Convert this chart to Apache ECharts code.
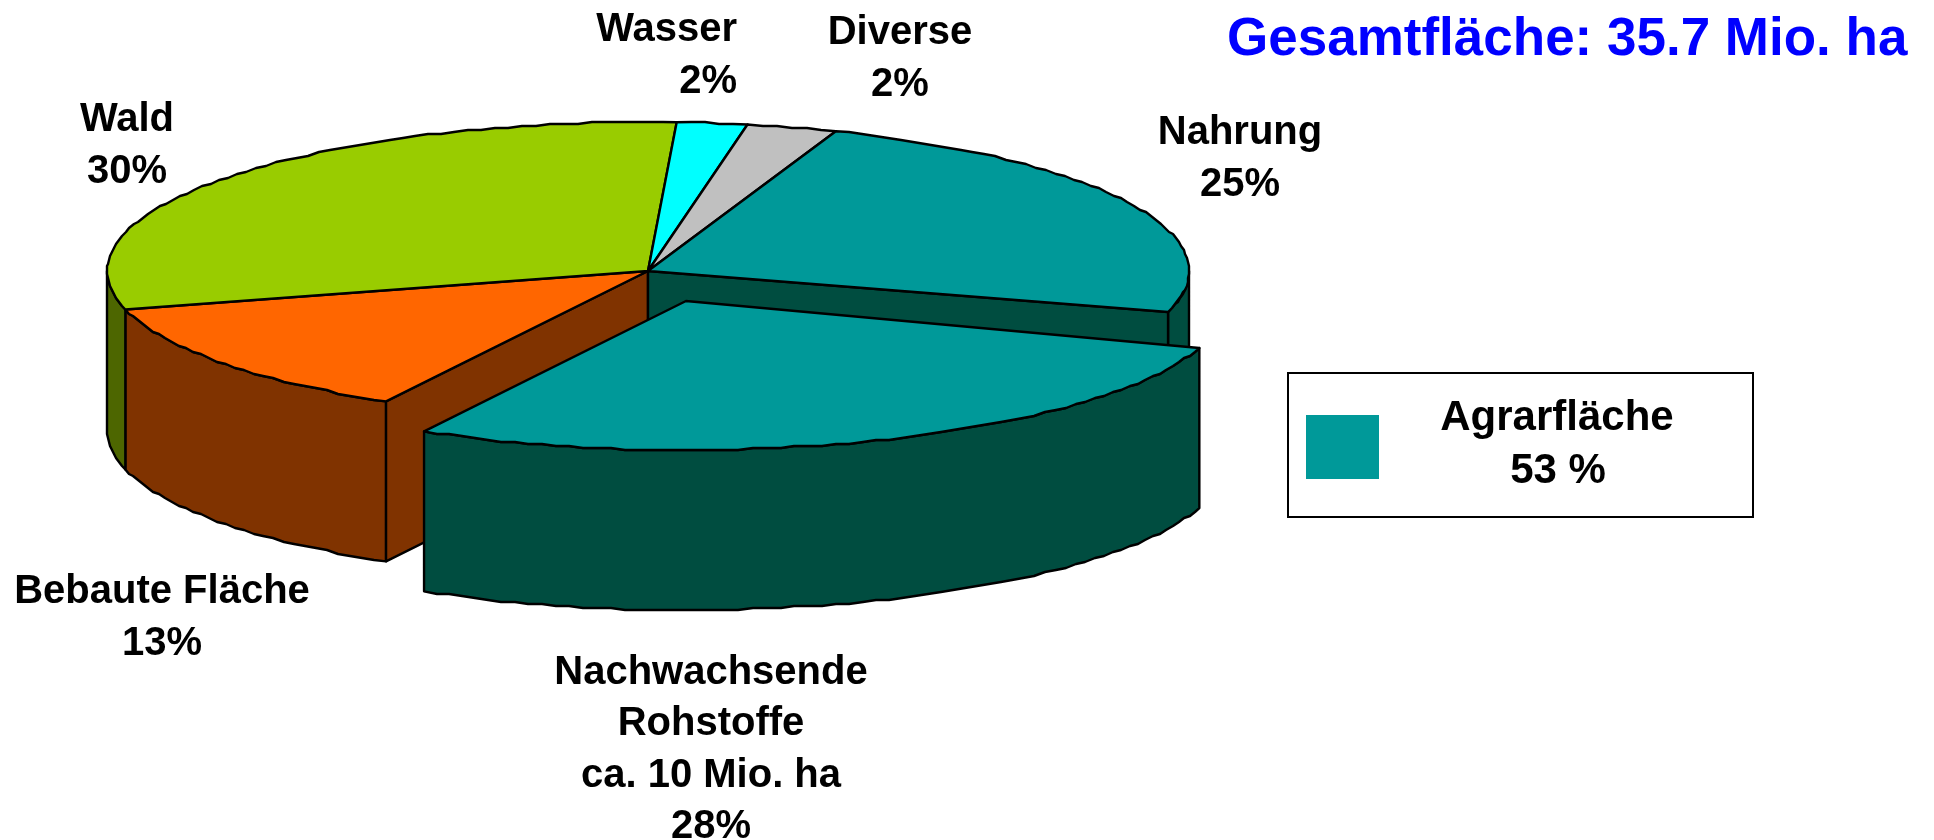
<!DOCTYPE html>
<html><head><meta charset="utf-8">
<style>html,body{margin:0;padding:0;background:#fff}#c{width:1934px;height:840px}</style>
<script src="https://cdn.jsdelivr.net/npm/echarts@6/dist/echarts.min.js"></script>
</head><body><div id="c"></div>
<script>
// --- data ---
const categories = ['Nachwachsende Rohstoffe', 'Bebaute Fläche', 'Wald', 'Wasser', 'Diverse', 'Nahrung'];
const sliceShares = [28.6, 12.8, 30, 2.1, 2.7, 23.8];   // shares
const labelPercents = ['28%', '13%', '30%', '2%', '2%', '25%'];
const labelNames = ['Nachwachsende\nRohstoffe\nca. 10 Mio. ha', 'Bebaute Fläche', 'Wald', 'Wasser', 'Diverse', 'Nahrung'];
const topColors = ['#009999', '#FF6600', '#99CC00', '#00FFFF', '#C0C0C0', '#009999'];
const sideColors = ['#004D40', '#803300', '#4D6600', '#008080', '#606060', '#004D40'];
const explodedFlags = [1, 0, 0, 0, 0, 0];
const titleText = 'Gesamtfläche: 35.7 Mio. ha';
const legendName = 'Agrarfläche';
const legendValue = '53 %';

// --- geometry of the tilted pie ---
const CX = 648, CY = 271, RX = 541, RY = 149, DEPTH = 160, START = 16;
const EX_DX = 38, EX_DY = 30, EX_TRIM = 2.4;
const rad = d => d * Math.PI / 180;
const total = sliceShares.reduce((a, b) => a + b, 0);
const starts = [];
sliceShares.reduce((acc, v, i) => { starts[i] = acc; return acc + v / total * 360; }, START);

function pt(cx, cy, t) { return [cx + RX * Math.cos(rad(t)), cy + RY * Math.sin(rad(t))]; }
// Outline of the ellipse arc: slightly stepped, like the old metafile rendering
function arc(cx, cy, a, b) {
  const pts = [pt(cx, cy, a)];
  const n = Math.max(1, Math.round((b - a) / 1.5));
  for (let i = 1; i < n; i++) {
    const p = pt(cx, cy, a + (b - a) * i / n);
    pts.push([Math.round(p[0]), Math.round(p[1] / 2) * 2]);
  }
  pts.push(pt(cx, cy, b));
  return pts;
}
const poly = (points, fill, lw) => ({ type: 'polygon', shape: { points }, style: { fill, stroke: '#000', lineWidth: lw || 2.4, lineJoin: 'round' } });
function wall(pts, fill) {
  const low = pts.slice().reverse().map(p => [p[0], p[1] + DEPTH]);
  return poly(pts.concat(low), fill);
}
function sidesOf(i, cx, cy, a, b) {
  const out = [];
  // visible outer wall: the part of the arc in front (t in 0..180 mod 360)
  [[0, 180], [360, 540]].forEach(([lo, hi]) => {
    const s = Math.max(a, lo), e = Math.min(b, hi);
    if (e > s) out.push(wall(arc(cx, cy, s, e), sideColors[i]));
  });
  return out;
}
function cutFace(cx, cy, t, fill) { return wall([[cx, cy], pt(cx, cy, t)], fill); }
function sliceRange(i) { return [starts[i], starts[i] + sliceShares[i] / total * 360]; }

function renderSides(params) {
  const i = params.dataIndex;
  if (explodedFlags[i]) return { type: 'group', children: [] };
  const [a, b] = sliceRange(i);
  return { type: 'group', children: sidesOf(i, CX, CY, a, b) };
}
function renderCuts(params) {
  const i = params.dataIndex;
  const prev = (i + sliceShares.length - 1) % sliceShares.length;
  const next = (i + 1) % sliceShares.length;
  const [a, b] = sliceRange(i);
  const ch = [];
  if (explodedFlags[i]) return { type: 'group', children: ch };
  if (explodedFlags[prev]) ch.push(cutFace(CX, CY, a, sideColors[i]));
  if (explodedFlags[next]) ch.push(cutFace(CX, CY, b, sideColors[i]));
  return { type: 'group', children: ch };
}
function renderTops(params) {
  const i = params.dataIndex;
  if (explodedFlags[i]) return { type: 'group', children: [] };
  const [a, b] = sliceRange(i);
  return { type: 'group', children: [poly([[CX, CY]].concat(arc(CX, CY, a, b)), topColors[i])] };
}
function renderExploded(params) {
  const i = params.dataIndex;
  if (!explodedFlags[i]) return { type: 'group', children: [] };
  const [a0, b] = sliceRange(i);
  const a = a0 + EX_TRIM, cx = CX + EX_DX, cy = CY + EX_DY;
  return { type: 'group', children: sidesOf(i, cx, cy, a, b).concat(
    poly([[cx, cy]].concat(arc(cx, cy, a, b)), topColors[i])) };
}

const seriesData = categories.map((name, i) => ({ name, value: sliceShares[i] }));
const custom = (name, renderItem) => ({ type: 'custom', name, coordinateSystem: 'none', data: seriesData, renderItem, animation: false, silent: true, clip: false });

const label = (i, x, y, align) => ({
  type: 'text', x, y, silent: true,
  style: {
    text: labelNames[i] + '\n' + labelPercents[i], fill: '#000', align: align || 'center', verticalAlign: 'middle',
    font: 'bold 40px "Liberation Sans", Arial, sans-serif', lineHeight: 51.5
  }
});

const chart = echarts.init(document.getElementById('c'), null, { renderer: 'canvas' });
chart.setOption({
  animation: false,
  backgroundColor: '#fff',
  title: {
    text: titleText, left: 1227, top: 12, padding: 0,
    textStyle: { color: '#0000FF', fontFamily: '"Liberation Sans", Arial, sans-serif', fontWeight: 'bold', fontSize: 53, lineHeight: 56 }
  },
  series: [
    custom('Seitenflächen', renderSides),
    custom('Schnittflächen', renderCuts),
    custom('Deckflächen', renderTops),
    custom('Herausgezogen', renderExploded)
  ],
  graphic: { elements: [
    label(0, 711, 750),
    label(1, 162, 618),
    label(2, 127, 146),
    label(3, 737, 56, 'right'),
    label(4, 900, 59),
    label(5, 1240, 159),
    { type: 'rect', silent: true, shape: { x: 1288, y: 373, width: 465, height: 144 }, style: { fill: '#fff', stroke: '#000', lineWidth: 2 } },
    { type: 'rect', silent: true, shape: { x: 1306, y: 415, width: 73, height: 64 }, style: { fill: '#009999' } },
    { type: 'text', x: 1557, y: 418, silent: true, style: { text: legendName, fill: '#000', align: 'center', verticalAlign: 'middle', font: 'bold 42px "Liberation Sans", Arial, sans-serif' } },
    { type: 'text', x: 1558, y: 471, silent: true, style: { text: legendValue, fill: '#000', align: 'center', verticalAlign: 'middle', font: 'bold 42px "Liberation Sans", Arial, sans-serif' } }
  ] }
});
</script></body></html>
